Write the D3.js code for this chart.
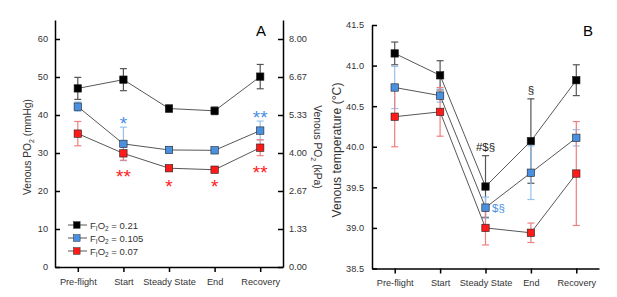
<!DOCTYPE html>
<html><head><meta charset="utf-8">
<script src="https://cdn.jsdelivr.net/npm/d3@7"></script>
<style>
body{margin:0;background:#fff;}
svg{font-family:"Liberation Sans",Arial,sans-serif;}
</style></head>
<body>
<svg id="c" width="617" height="297"></svg>
<script>
const categories = ["Pre-flight","Start","Steady State","End","Recovery"];
// Panel A: venous PO2 (mmHg)
const po021 = [47.0, 49.3, 41.7, 41.1, 50.1];
const po021Err = [2.9, 2.9, 0.9, 1.0, 3.2];
const po0105 = [42.2, 32.4, 30.8, 30.7, 35.9];
const po0105Err = [1.2, 4.4, 0.5, 0.5, 2.5];
const po007 = [35.1, 29.9, 26.0, 25.6, 31.4];
const po007Err = [3.2, 1.8, 0.5, 0.5, 2.1];
const mmHgTicks = [0,10,20,30,40,50,60];
// Panel B: venous temperature (°C)
const t021 = [41.15, 40.88, 39.51, 40.07, 40.82];
const t021Err = [0.14, 0.18, 0.38, 0.52, 0.19];
const t0105 = [40.73, 40.63, 39.25, 39.68, 40.11];
const t0105Err = [0.26, 0.08, 0.13, 0.33, 0.10];
const t007 = [40.37, 40.43, 39.00, 38.94, 39.67];
const t007Err = [0.37, 0.30, 0.21, 0.12, 0.64];
const tempTicks = [38.5, 39.0, 39.5, 40.0, 40.5, 41.0, 41.5];
const legendLabels = ["0.21","0.105","0.07"];

const colors = ["#000000","#4a90e0","#ff1a1a"];
const errColors = ["#555555","#93c2ee","#f07f7f"];
const svg = d3.select("#c");
const txt = "#333";
const tickFont = 9.2;

function styleAxis(g){
  g.selectAll("path.domain").attr("stroke","#000").attr("stroke-width",1.5);
  g.selectAll(".tick line").attr("stroke","#000").attr("stroke-width",1.5);
  g.selectAll(".tick text").attr("fill",txt).attr("font-size",tickFont).attr("font-family","Liberation Sans, Arial, sans-serif");
}

function drawSeries(g, x, y, means, errs, ci){
  const data = categories.map((c,i)=>({c, m:means[i], e:errs[i]}));
  const eg = g.append("g");
  data.forEach(d=>{
    const cx = x(d.c);
    eg.append("line").attr("x1",cx).attr("x2",cx).attr("y1",y(d.m-d.e)).attr("y2",y(d.m+d.e))
      .attr("stroke",errColors[ci]).attr("stroke-width",1.2);
    [d.m-d.e, d.m+d.e].forEach(v=>{
      eg.append("line").attr("x1",cx-3.5).attr("x2",cx+3.5).attr("y1",y(v)).attr("y2",y(v))
        .attr("stroke",errColors[ci]).attr("stroke-width",1.2);
    });
  });
  return data;
}
function drawLine(g,x,y,data){
  g.append("path").datum(data)
    .attr("d", d3.line().x(d=>x(d.c)).y(d=>y(d.m)))
    .attr("fill","none").attr("stroke","#444").attr("stroke-width",0.9);
}
function drawMarkers(g,x,y,data,ci){
  g.selectAll(null).data(data).enter().append("rect")
    .attr("x",d=>x(d.c)-3.7).attr("y",d=>y(d.m)-3.7).attr("width",7.4).attr("height",7.4)
    .attr("fill",colors[ci]).attr("stroke","#222").attr("stroke-width",0.6);
}

function star(g, x, y, s, color, size){
  g.append("text").attr("x",x).attr("y",y + size*0.56).attr("text-anchor","middle")
    .attr("font-size",size).attr("fill",color).text(s);
}

// ---------- Panel A ----------
const xA = d3.scalePoint().domain(categories).range([55,283]).padding(0.5);
const yA = d3.scaleLinear().domain([0,65]).range([267,20]);
const kPaFactor = 8.0/60;
const yAk = d3.scaleLinear().domain([0,65*kPaFactor]).range([267,20]);
const gA = svg.append("g");

gA.append("g").attr("transform","translate(55,0)")
  .call(d3.axisLeft(yA).tickValues(mmHgTicks).tickSizeInner(-5).tickSizeOuter(0).tickPadding(7))
  .call(styleAxis);
gA.append("g").attr("transform","translate(283,0)")
  .call(d3.axisRight(yAk).tickValues(mmHgTicks.map(v=>v*kPaFactor)).tickFormat(d=>d.toFixed(2)).tickSizeInner(-5).tickSizeOuter(0).tickPadding(6))
  .call(styleAxis);
gA.append("g").attr("transform","translate(0,267)")
  .call(d3.axisBottom(xA).tickSizeInner(5).tickSizeOuter(0).tickPadding(6))
  .call(styleAxis);

const aSeries = [[po021,po021Err],[po0105,po0105Err],[po007,po007Err]];
const aData = aSeries.map((s,i)=>drawSeries(gA,xA,yA,s[0],s[1],i));
aData.forEach(d=>drawLine(gA,xA,yA,d));
aData.forEach((d,i)=>drawMarkers(gA,xA,yA,d,i));

// significance marks A
star(gA, xA("Start"), 119, "*", colors[1], 19);
star(gA, xA("Recovery"), 113, "**", colors[1], 19);
star(gA, xA("Start"), 172, "**", colors[2], 19);
star(gA, xA("Steady State"), 182, "*", colors[2], 19);
star(gA, xA("End"), 182, "*", colors[2], 19);
star(gA, xA("Recovery"), 168, "**", colors[2], 19);

gA.append("text").attr("x",261).attr("y",36).attr("text-anchor","middle").attr("font-size",15).attr("fill","#000").text("A");

// axis titles A
const tA = gA.append("text").attr("transform","translate(31,147) rotate(-90)").attr("text-anchor","middle")
  .attr("font-size",10.3).attr("fill",txt);
tA.append("tspan").text("Venous PO");
tA.append("tspan").attr("font-size",7).attr("dy",3).text("2");
tA.append("tspan").attr("dy",-3).text(" (mmHg)");
const tAr = gA.append("text").attr("transform","translate(314,147) rotate(90)").attr("text-anchor","middle")
  .attr("font-size",10.3).attr("fill",txt);
tAr.append("tspan").text("Venous PO");
tAr.append("tspan").attr("font-size",7).attr("dy",3).text("2");
tAr.append("tspan").attr("dy",-3).text(" (kPa)");

// legend
legendLabels.forEach((lab,i)=>{
  const ly = 225 + i*13;
  const lg = gA.append("g");
  lg.append("line").attr("x1",68).attr("x2",87).attr("y1",ly).attr("y2",ly).attr("stroke","#444").attr("stroke-width",0.9);
  lg.append("rect").attr("x",73.5).attr("y",ly-3.3).attr("width",6.6).attr("height",6.6).attr("fill",colors[i]).attr("stroke","#222").attr("stroke-width",0.5);
  const t = lg.append("text").attr("x",90).attr("y",ly+3.5).attr("font-size",9.5).attr("fill",txt);
  t.append("tspan").text("F");
  t.append("tspan").attr("font-size",6.5).attr("dy",2.5).text("I");
  t.append("tspan").attr("dy",-2.5).text("O");
  t.append("tspan").attr("font-size",6.5).attr("dy",2.5).text("2");
  t.append("tspan").attr("dy",-2.5).text(" = " + lab);
});

// ---------- Panel B ----------
const xB = d3.scalePoint().domain(categories).range([372,599]).padding(0.5);
const yB = d3.scaleLinear().domain([38.5,41.5]).range([268.5,25]);
const gB = svg.append("g");
gB.append("g").attr("transform","translate(372,0)")
  .call(d3.axisLeft(yB).tickValues(tempTicks).tickFormat(d3.format(".1f")).tickSizeInner(-5).tickSizeOuter(0).tickPadding(8))
  .call(styleAxis);
gB.append("g").attr("transform","translate(0,268.5)")
  .call(d3.axisBottom(xB).tickSizeInner(5).tickSizeOuter(0).tickPadding(6))
  .call(styleAxis);

const bSeries = [[t021,t021Err],[t0105,t0105Err],[t007,t007Err]];
const bData = bSeries.map((s,i)=>drawSeries(gB,xB,yB,s[0],s[1],i));
bData.forEach(d=>drawLine(gB,xB,yB,d));
bData.forEach((d,i)=>drawMarkers(gB,xB,yB,d,i));

gB.append("text").attr("x",xB("Steady State")).attr("y",151).attr("text-anchor","middle").attr("font-size",11.5).attr("fill","#222").text("#$§");
gB.append("text").attr("x",xB("End")).attr("y",94).attr("text-anchor","middle").attr("font-size",11.5).attr("fill","#222").text("§");
gB.append("text").attr("x",492).attr("y",212).attr("text-anchor","start").attr("font-size",11.5).attr("fill",colors[1]).text("$§");

gB.append("text").attr("x",588).attr("y",36).attr("text-anchor","middle").attr("font-size",15).attr("fill","#000").text("B");

gB.append("text").attr("transform","translate(341,150) rotate(-90)").attr("text-anchor","middle")
  .attr("font-size",12.2).attr("fill",txt).text("Venous temperature (°C)");
</script>
</body></html>
